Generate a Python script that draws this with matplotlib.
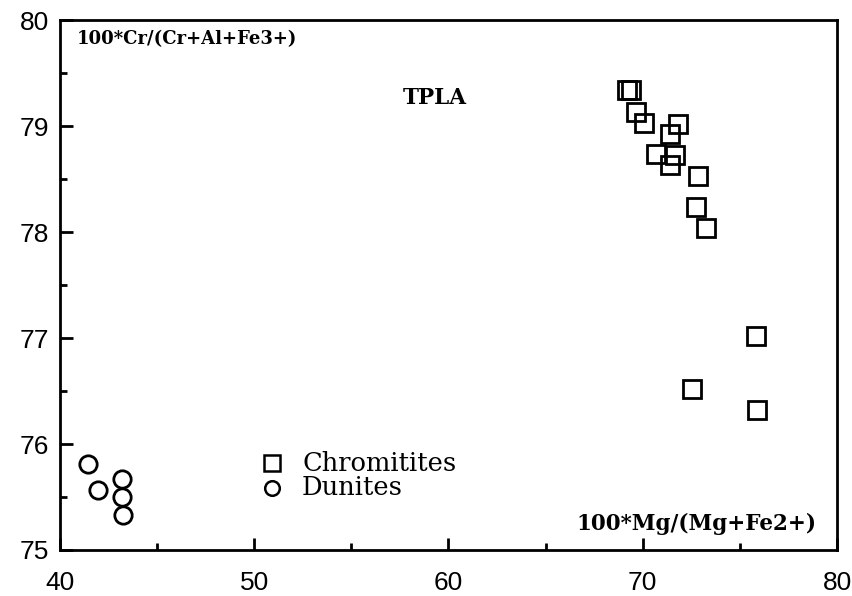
import matplotlib
matplotlib.use("Agg")
import matplotlib.pyplot as plt
from matplotlib.ticker import MultipleLocator

# Chromitites
chrom_x = [69.2, 69.4, 69.66, 70.07, 71.8, 71.4, 70.7, 71.67, 71.4, 72.85, 72.75, 73.26, 75.84, 72.54, 75.9]
chrom_y = [79.34, 79.34, 79.13, 79.03, 79.02, 78.93, 78.74, 78.73, 78.63, 78.53, 78.24, 78.04, 77.02, 76.52, 76.32]
# Dunites
dun_x = [41.44, 41.96, 43.19, 43.19, 43.24]
dun_y = [75.81, 75.57, 75.67, 75.50, 75.33]

xticks = [40, 50, 60, 70, 80]
yticks = [75, 76, 77, 78, 79, 80]

fig = plt.figure(figsize=(8.52, 5.96), dpi=100)
ax = fig.add_axes([0.0704, 0.0772, 0.912, 0.889])

ax.plot(chrom_x, chrom_y, linestyle="none", marker="s", markersize=13,
        markerfacecolor="none", markeredgecolor="black", markeredgewidth=2.0)
ax.plot(dun_x, dun_y, linestyle="none", marker="o", markersize=12.5,
        markerfacecolor="none", markeredgecolor="black", markeredgewidth=2.0)

ax.set_xlim(40, 80)
ax.set_ylim(75, 80)
ax.set_xticks(xticks)
ax.set_yticks(yticks)
ax.xaxis.set_minor_locator(MultipleLocator(5))
ax.yaxis.set_minor_locator(MultipleLocator(0.5))
ax.tick_params(which="both", direction="in", width=2, top=False, right=False)
ax.tick_params(which="major", length=9)
ax.tick_params(which="minor", length=5)
ax.tick_params(axis="x", which="major", pad=15)
ax.tick_params(axis="y", which="major", pad=8)
for lab in ax.get_xticklabels() + ax.get_yticklabels():
    lab.set_fontfamily("Liberation Sans")
    lab.set_fontsize(19)
for s in ax.spines.values():
    s.set_linewidth(2)

ax.text(0.022, 0.981, "100*Cr/(Cr+Al+Fe3+)", transform=ax.transAxes,
        ha="left", va="top", fontsize=13, family="DejaVu Serif",
        fontweight="bold", color="black")
ax.text(0.974, 0.0377, "100*Mg/(Mg+Fe2+)", transform=ax.transAxes,
        ha="right", va="baseline", fontsize=15.5, family="DejaVu Serif",
        fontweight="bold", color="black")
ax.text(0.4826, 0.853, "TPLA", transform=ax.transAxes,
        ha="center", va="center", fontsize=15.5, family="DejaVu Serif",
        fontweight="bold", color="black")

# legend
ax.plot([50.92], [75.82], linestyle="none", marker="s", markersize=11,
        markerfacecolor="none", markeredgecolor="black", markeredgewidth=1.8)
ax.plot([50.92], [75.585], linestyle="none", marker="o", markersize=10.5,
        markerfacecolor="none", markeredgecolor="black", markeredgewidth=1.8)
ax.text(52.46, 75.82, "Chromitites", ha="left", va="center", fontsize=18.5,
        family="DejaVu Serif")
ax.text(52.46, 75.585, "Dunites", ha="left", va="center", fontsize=18.5,
        family="DejaVu Serif")

fig.savefig("out.png", dpi=100)
